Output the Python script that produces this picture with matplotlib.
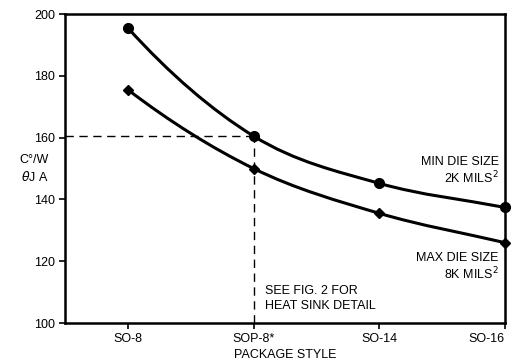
import matplotlib
matplotlib.use("Agg")
import matplotlib.pyplot as plt
from matplotlib.path import Path
from matplotlib.patches import PathPatch
import numpy as np

plt.rcParams['font.family'] = ['Liberation Sans', 'DejaVu Sans']

packages = ["SO-8", "SOP-8*", "SO-14", "SO-16"]
min_die = [195.5, 160.5, 145.2, 137.4]
max_die = [175.5, 150.0, 135.5, 126.0]
yticks = [100, 120, 140, 160, 180, 200]

FS = 9

fig = plt.figure(figsize=(5.14, 3.62), dpi=100)
ax = fig.add_axes([0.1265, 0.1077, 0.856, 0.8536])

x = np.arange(len(packages))


def smooth_patch(xs, ys):
    xs = np.asarray(xs, float)
    ys = np.asarray(ys, float)
    n = len(xs)
    verts = [(xs[0], ys[0])]
    codes = [Path.MOVETO]
    m = np.zeros(n)
    for i in range(n):
        if i == 0:
            m[i] = (ys[1] - ys[0]) / (xs[1] - xs[0])
        elif i == n - 1:
            m[i] = (ys[-1] - ys[-2]) / (xs[-1] - xs[-2])
        else:
            m[i] = 0.5 * ((ys[i + 1] - ys[i]) / (xs[i + 1] - xs[i]) + (ys[i] - ys[i - 1]) / (xs[i] - xs[i - 1]))
    m[0] = 2 * (ys[1] - ys[0]) / (xs[1] - xs[0]) - m[1]
    for i in range(n - 1):
        h = xs[i + 1] - xs[i]
        verts += [(xs[i] + h / 3, ys[i] + m[i] * h / 3),
                  (xs[i + 1] - h / 3, ys[i + 1] - m[i + 1] * h / 3),
                  (xs[i + 1], ys[i + 1])]
        codes += [Path.CURVE4] * 3
    return PathPatch(Path(verts, codes), fill=False, lw=2.2, color='black', zorder=3, clip_on=False)


ax.add_patch(smooth_patch(x, min_die))
ax.add_patch(smooth_patch(x, max_die))
ax.plot(x, min_die, 'o', color='black', ms=7, zorder=4, clip_on=False)
ax.plot(x, max_die, 'D', color='black', ms=5.5, zorder=4, clip_on=False)

# dashed reference lines
ax.plot([-0.5, 1], [min_die[1], min_die[1]], color='black', lw=1, dashes=(6, 4), zorder=2)
ax.plot([1, 1], [100, min_die[1]], color='black', lw=1, dashes=(6, 4), zorder=2)

ax.set_xlim(-0.5, 3)
ax.set_ylim(100, 200)
ax.set_xticks(x)
ax.set_xticklabels(packages, fontsize=FS)
ax.get_xticklabels()[-1].set_horizontalalignment('right')
ax.set_yticks(yticks)
ax.set_yticklabels([str(v) for v in yticks], fontsize=FS)
for s in ax.spines.values():
    s.set_linewidth(1.8)
ax.tick_params(direction='out', length=4, width=1.2, pad=3)

ax.set_xlabel("PACKAGE STYLE", fontsize=FS, labelpad=3)

fig.text(19 / 514, 1 - 160 / 362, "C°/W", fontsize=FS, va='center', ha='left')
fig.text(21 / 514, 1 - 177 / 362, r"$\theta$J A", fontsize=FS, va='center', ha='left')

ax.text(2.95, 152, "MIN DIE SIZE", fontsize=FS, ha='right', va='center')
ax.text(2.95, 147, "2K MILS$^2$", fontsize=FS, ha='right', va='center')
ax.text(2.95, 121, "MAX DIE SIZE", fontsize=FS, ha='right', va='center')
ax.text(2.95, 116, "8K MILS$^2$", fontsize=FS, ha='right', va='center')
ax.text(1.09, 110.5, "SEE FIG. 2 FOR", fontsize=FS, ha='left', va='center')
ax.text(1.09, 105.5, "HEAT SINK DETAIL", fontsize=FS, ha='left', va='center')

fig.savefig("out.png", dpi=100)
